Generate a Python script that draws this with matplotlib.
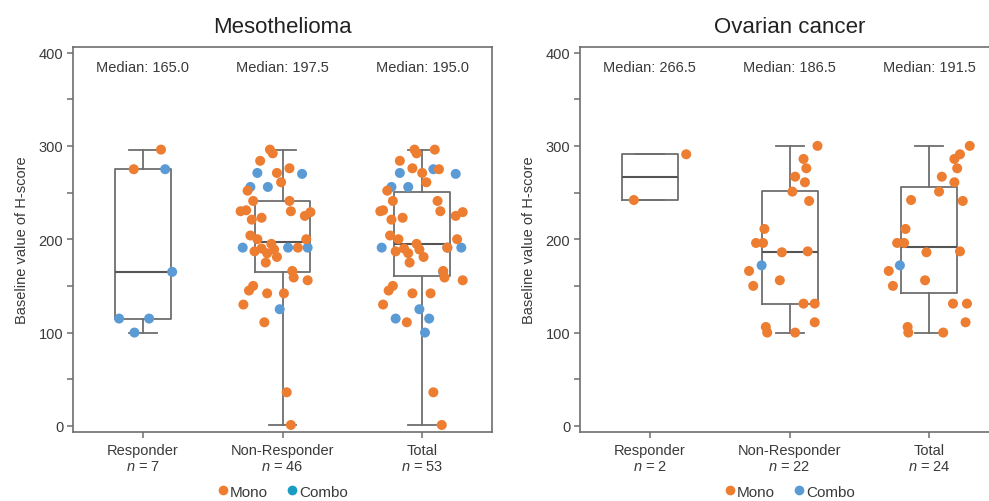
import numpy as np
import matplotlib
matplotlib.use('Agg')
import matplotlib.pyplot as plt
from matplotlib.lines import Line2D

plt.rcParams['font.family'] = ['Liberation Sans', 'DejaVu Sans']
plt.rcParams['mathtext.fontset'] = 'custom'
plt.rcParams['mathtext.it'] = 'Liberation Sans:italic'
plt.rcParams['mathtext.rm'] = 'Liberation Sans'

groups = ['Responder', 'Non-Responder', 'Total']

# ---- Mesothelioma ----
meso_resp_mono = [296, 275]
meso_resp_combo = [275, 165, 115, 115, 100]
meso_nr_mono = [296, 292, 284, 276, 271, 261, 252, 241, 241, 231, 230, 230, 229,
                225, 223, 221, 204, 200, 200, 195, 191, 190, 189, 187, 185, 181,
                175, 166, 159, 156, 150, 145, 142, 142, 130, 111, 36, 1]
meso_nr_combo = [271, 270, 256, 256, 191, 191, 191, 125]
meso_median = [165.0, 197.5, 195.0]
meso_q1 = [115, 165, 161]
meso_q3 = [275, 241, 251]

# horizontal jitter of each dot (category units)
meso_resp_mono_jit = [0.13, -0.065]
meso_resp_combo_jit = [0.16, 0.21, -0.17, 0.045, -0.06]
meso_nr_mono_jit = [-0.09, -0.07, -0.16, 0.05, -0.04, -0.01, -0.25, -0.21, 0.05, -0.26,
                    -0.30, 0.06, 0.20, 0.16, -0.15, -0.22, -0.23, -0.18, 0.17, -0.08,
                    0.11, -0.15, -0.06, -0.20, -0.11, -0.04, -0.12, 0.07, 0.08, 0.18,
                    -0.21, -0.24, -0.11, 0.01, -0.28, -0.13, 0.03, 0.06]
meso_nr_combo_jit = [-0.18, 0.14, -0.23, -0.105, -0.285, 0.04, 0.18, -0.02]
meso_tot_mono_jit = [0.09, 0.12,
                     -0.055, -0.04, -0.16, -0.07, 0.00, 0.03, -0.25, -0.21, 0.11, -0.28,
                     -0.30, 0.13, 0.29, 0.24, -0.14, -0.22, -0.23, -0.17, 0.25, -0.04,
                     0.18, -0.13, -0.02, -0.19, -0.10, 0.01, -0.09, 0.15, 0.16, 0.29,
                     -0.21, -0.24, -0.07, 0.06, -0.28, -0.11, 0.08, 0.14]
meso_tot_combo_jit = [0.08, 0.15, -0.19, 0.05, 0.02,
                      -0.16, 0.24, -0.22, -0.10, -0.29, 0.28, 0.18, -0.02]

# ---- Ovarian cancer ----
ov_resp_mono = [291, 242]
ov_resp_combo = []
ov_nr_mono = [300, 286, 276, 267, 261, 251, 241, 211, 196, 196, 186, 187, 166, 156,
              150, 131, 131, 111, 106, 100, 100]
ov_nr_combo = [172]
ov_median = [266.5, 186.5, 191.5]
ov_q1 = [242, 131, 142]
ov_q3 = [291, 252, 256]

ov_resp_mono_jit = [0.26, -0.115]
ov_resp_combo_jit = []
ov_nr_mono_jit = [0.20, 0.10, 0.12, 0.04, 0.11, 0.02, 0.14, -0.18, -0.24, -0.19, -0.055,
                  0.13, -0.29, -0.07, -0.26, 0.10, 0.18, 0.18, -0.17, -0.16, 0.04]
ov_nr_combo_jit = [-0.20]
ov_tot_mono_jit = [0.22, -0.13,
                   0.29, 0.18, 0.20, 0.09, 0.18, 0.07, 0.24, -0.17, -0.23, -0.18, -0.02,
                   0.22, -0.29, -0.03, -0.26, 0.17, 0.27, 0.26, -0.155, -0.15, 0.10]
ov_tot_combo_jit = [-0.21]

ORANGE = '#ED7D31'
BLUE = '#5B9BD5'
GRAY = '#6e6e6e'
TXT = '#3a3a3a'


def draw_panel(ax, title, resp, nr, jits, med, q1, q3, legend_combo_color):
    resp_mono, resp_combo = resp
    nr_mono, nr_combo = nr
    mono = [resp_mono, nr_mono, resp_mono + nr_mono]
    combo = [resp_combo, nr_combo, resp_combo + nr_combo]

    stats = []
    for i in range(3):
        allv = mono[i] + combo[i]
        stats.append(dict(med=med[i], q1=q1[i], q3=q3[i],
                          whislo=min(allv), whishi=max(allv), fliers=[]))
    line = dict(color=GRAY, linewidth=1.3)
    ax.bxp(stats, positions=[0, 1, 2], widths=0.4, showfliers=False,
           boxprops=line, whiskerprops=line, capprops=line,
           medianprops=dict(color='#555555', linewidth=1.5), zorder=1)

    for i in range(3):
        mj, cj = jits[i]
        if combo[i]:
            ax.scatter(i + np.array(cj), combo[i], s=52, color=BLUE,
                       edgecolors='none', zorder=3)
        ax.scatter(i + np.array(mj), mono[i], s=52, color=ORANGE,
                   edgecolors='none', zorder=4)
        ax.text(i, 385, f'Median: {med[i]:.1f}', ha='center', va='center',
                fontsize=10.5, color=TXT)

    ax.set_xlim(-0.5, 2.5)
    ax.set_ylim(-6.5, 406)
    ax.set_xticks([0, 1, 2])
    ax.set_xticklabels([f'{g}\n$n$ = {len(mono[i]) + len(combo[i])}'
                        for i, g in enumerate(groups)], fontsize=10.5, color=TXT)
    ax.set_yticks([0, 100, 200, 300, 400])
    ax.set_yticks([50, 150, 250, 350], minor=True)
    ax.tick_params(axis='y', which='both', length=4, width=1.1, color=GRAY,
                   labelsize=10.5, labelcolor=TXT, pad=3)
    ax.tick_params(axis='x', length=4, width=1.1, color=GRAY, pad=4)
    for sp in ax.spines.values():
        sp.set_color(GRAY)
        sp.set_linewidth(1.2)
    ax.set_ylabel('Baseline value of H-score', fontsize=10.5, color=TXT, labelpad=7)
    ax.set_title(title, fontsize=16, color='#222222', pad=11)

    handles = [Line2D([], [], ls='', marker='o', markersize=7, color=ORANGE,
                      markeredgewidth=0),
               Line2D([], [], ls='', marker='o', markersize=7, color=legend_combo_color,
                      markeredgewidth=0)]
    ax.legend(handles, ['Mono', 'Combo'], loc='center', bbox_to_anchor=(0.5, -0.155),
              ncol=2, frameon=False, fontsize=11, handletextpad=0.05,
              columnspacing=1.2, handlelength=0.8, labelcolor=TXT)


fig = plt.figure(figsize=(9.89, 5.02), dpi=100)
ax1 = fig.add_axes([0.0738, 0.1375, 0.4237, 0.767])
ax2 = fig.add_axes([0.5865, 0.1375, 0.4237, 0.767])

draw_panel(ax1, 'Mesothelioma',
           (meso_resp_mono, meso_resp_combo), (meso_nr_mono, meso_nr_combo),
           [(meso_resp_mono_jit, meso_resp_combo_jit),
            (meso_nr_mono_jit, meso_nr_combo_jit),
            (meso_tot_mono_jit, meso_tot_combo_jit)],
           meso_median, meso_q1, meso_q3, '#1A9CC2')
draw_panel(ax2, 'Ovarian cancer',
           (ov_resp_mono, ov_resp_combo), (ov_nr_mono, ov_nr_combo),
           [(ov_resp_mono_jit, ov_resp_combo_jit),
            (ov_nr_mono_jit, ov_nr_combo_jit),
            (ov_tot_mono_jit, ov_tot_combo_jit)],
           ov_median, ov_q1, ov_q3, BLUE)

fig.savefig('out.png', dpi=100)
